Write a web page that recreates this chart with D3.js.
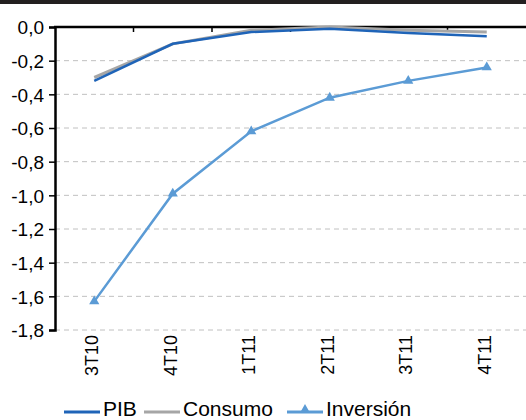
<!DOCTYPE html>
<html><head><meta charset="utf-8">
<script src="https://cdn.jsdelivr.net/npm/d3@7"></script>
<style>body{margin:0;background:#fff}svg{display:block;font-family:"Liberation Sans",Arial,sans-serif}</style>
</head><body>
<script>
const categories = ["3T10","4T10","1T11","2T11","3T11","4T11"];
const pib = [-0.32,-0.10,-0.03,-0.01,-0.035,-0.055];
const consumo = [-0.30,-0.10,-0.02,0.0,-0.02,-0.03];
const inversion = [-1.63,-0.99,-0.62,-0.42,-0.32,-0.24];
const yTicks = [0,-0.2,-0.4,-0.6,-0.8,-1.0,-1.2,-1.4,-1.6,-1.8];

const W=526,H=420;
const svg=d3.select("body").append("svg").attr("width",W).attr("height",H);
svg.append("rect").attr("x",0).attr("y",0).attr("width",W).attr("height",4).attr("fill","#231f20");
const x=d3.scaleBand().domain(categories).range([55,526]);
const y=d3.scaleLinear().domain([-1.8,0]).range([330,27]);
const fmt=d=>d3.format(".1f")(d).replace(".",",").replace("−","-");

// gridlines
svg.append("g").selectAll("line").data(yTicks.filter(d=>d!==0)).join("line")
 .attr("x1",55).attr("x2",526).attr("y1",d=>y(d)).attr("y2",d=>y(d))
 .attr("stroke","#c0c0c0").attr("stroke-width",1).attr("stroke-dasharray","5,4");

// y axis
const ya=svg.append("g").attr("transform","translate(55,0)")
 .call(d3.axisLeft(y).tickValues(yTicks).tickFormat(fmt).tickSize(6).tickPadding(5));
ya.attr("font-family",null).attr("font-size",null);
ya.select(".domain").attr("stroke","#000").attr("stroke-width",2.5);
ya.selectAll(".tick line").attr("stroke","#000").attr("stroke-width",1.5);
ya.selectAll("text").attr("font-size",19).attr("fill","#000").attr("dy","0.36em");

// top category axis
svg.append("line").attr("x1",54).attr("x2",526).attr("y1",y(0)).attr("y2",y(0)).attr("stroke","#000").attr("stroke-width",2.5);
svg.append("g").selectAll("line").data(categories.slice(1)).join("line")
 .attr("x1",d=>x(d)).attr("x2",d=>x(d)).attr("y1",y(0)).attr("y2",y(0)+5).attr("stroke","#000").attr("stroke-width",1.5);

// x labels
svg.append("g").selectAll("text").data(categories).join("text")
 .attr("transform",d=>`translate(${x(d)+x.bandwidth()/2+4},335) rotate(-90)`)
 .attr("text-anchor","end").attr("font-size",18).attr("fill","#000").text(d=>d);

const cx=d=>x(d)+x.bandwidth()/2;
const line=d3.line().x((d,i)=>cx(categories[i])).y(d=>y(d));
svg.append("path").datum(consumo).attr("d",line).attr("fill","none").attr("stroke","#a6a6a6").attr("stroke-width",3);
svg.append("path").datum(pib).attr("d",line).attr("fill","none").attr("stroke","#1f64b8").attr("stroke-width",2.5);
svg.append("path").datum(inversion).attr("d",line).attr("fill","none").attr("stroke","#5b9bd5").attr("stroke-width",2.5);
const tri=d3.symbol().type(d3.symbolTriangle).size(45);
svg.append("g").selectAll("path").data(inversion).join("path")
 .attr("transform",(d,i)=>`translate(${cx(categories[i])},${y(d)})`).attr("d",tri).attr("fill","#5b9bd5");

// legend
const lg=svg.append("g").attr("font-size",21).attr("fill","#000");
const items=[{n:"PIB",c:"#1f64b8",x:64,m:false},{n:"Consumo",c:"#a6a6a6",x:144,m:false},{n:"Inversión",c:"#5b9bd5",x:287,m:true}];
items.forEach(it=>{
 lg.append("line").attr("x1",it.x).attr("x2",it.x+36).attr("y1",412).attr("y2",412).attr("stroke",it.c).attr("stroke-width",3);
 if(it.m) lg.append("path").attr("transform",`translate(${it.x+18},410)`).attr("d",tri).attr("fill",it.c);
 lg.append("text").attr("x",it.x+39).attr("y",416).text(it.n);
});
</script>
</body></html>
